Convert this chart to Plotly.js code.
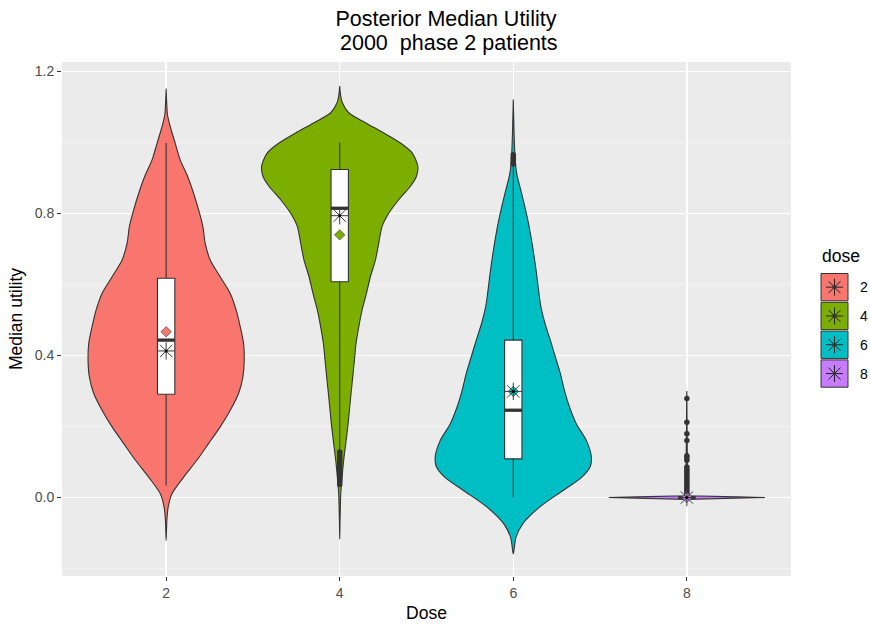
<!DOCTYPE html>
<html><head><meta charset="utf-8">
<script src="https://cdn.plot.ly/plotly-3.0.1.min.js"></script>
<style>html,body{margin:0;padding:0;background:#fff}</style>
</head><body><div id="chart" style="width:870px;height:624px"></div>
<script>
// ---- data ----
const doses = ['2','4','6','8'];
const doseColors = ['#F8766D','#7CAE00','#00BFC4','#C77CFF'];

// violin outlines: utility grid and relative density (max = 1)
const vioY_2 = [-0.121,-0.065,-0.027,0.010,0.057,0.105,0.152,0.199,0.246,0.293,0.340,0.387,0.434,0.481,0.528,0.575,0.622,0.669,0.717,0.764,0.811,0.858,0.905,0.952,0.999,1.046,1.079,1.103,1.152];
const vioD_2 = [0,0.009,0.026,0.073,0.222,0.393,0.543,0.692,0.821,0.927,0.983,1.0,0.991,0.949,0.897,0.821,0.692,0.564,0.5,0.47,0.415,0.35,0.274,0.179,0.115,0.051,0.017,0.009,0];
const vioY_4 = [-0.117,-0.065,-0.018,0.010,0.057,0.105,0.152,0.199,0.246,0.293,0.340,0.387,0.434,0.481,0.528,0.575,0.622,0.669,0.717,0.764,0.801,0.839,0.877,0.905,0.933,0.971,0.999,1.027,1.056,1.084,1.112,1.131,1.159];
const vioD_4 = [0,0.004,0.009,0.013,0.030,0.051,0.077,0.103,0.124,0.145,0.167,0.188,0.209,0.244,0.286,0.342,0.393,0.457,0.5,0.543,0.628,0.756,0.906,0.983,1.0,0.927,0.778,0.564,0.329,0.115,0.034,0.013,0];
const vioY_6 = [-0.159,-0.112,-0.074,-0.027,0.020,0.057,0.086,0.114,0.161,0.208,0.255,0.302,0.349,0.396,0.4435,0.491,0.538,0.585,0.632,0.679,0.726,0.773,0.820,0.867,0.914,0.961,1.037,1.121];
const vioD_6 = [0,0.034,0.121,0.336,0.638,0.875,0.983,1.0,0.935,0.806,0.72,0.655,0.603,0.539,0.474,0.405,0.353,0.323,0.297,0.267,0.233,0.194,0.147,0.095,0.043,0.022,0.009,0];
const vioY_8 = [-0.005,-0.0018,0,0.0018,0.005,0.050,0.100,0.200,0.280,0.300];
const vioD_8 = [0,0.64,1.0,0.64,0.015,0.008,0.006,0.004,0.003,0];

// box plot statistics
const boxQ1 = [0.291, 0.608, 0.109, 0];
const boxMedian = [0.4435, 0.815, 0.246, 0];
const boxQ3 = [0.618, 0.924, 0.4435, 0];
const whiskerLow = [0.034, 0.135, 0.001, 0];
const whiskerHigh = [0.999, 1.001, 0.933, 0];
const meanUtility = [0.467, 0.740, 0.299, 0.0];
const starUtility = [0.413, 0.794, 0.299, 0.0];

const outliers_2 = [];
const outliers_4 = [0.128,0.121,0.114,0.107,0.100,0.093,0.086,0.079,0.072,0.065,0.058,0.051,0.044,0.037];
const outliers_6 = [0.966,0.959,0.952,0.946,0.940];
const outliers_8 = [0.279,0.212,0.180,0.161,0.118,0.112,0.105,0.086,0.080,0.074,0.068,0.062,0.056,0.050,0.044,0.038,0.032,0.026,0.020,0.014,0.008];

const yTickVals = [0, 0.4, 0.8, 1.2];
const yTickText = ['0.0','0.4','0.8','1.2'];

// ---- build ----
const vioY = [vioY_2, vioY_4, vioY_6, vioY_8];
const vioD = [vioD_2, vioD_4, vioD_6, vioD_8];
const outl = [outliers_2, outliers_4, outliers_6, outliers_8];
const HALF = 0.45, BOXW = 0.1;
const FONT = 'Liberation Sans, Arial, sans-serif';
const DARK = '#333333';
const traces = [];

// violins
doses.forEach((d, i) => {
  const pos = i + 1;
  const ys = vioY[i], ds = vioD[i];
  const xr = ds.map(v => pos + HALF * v);
  const xl = ds.map(v => pos - HALF * v).reverse();
  traces.push({
    type: 'scatter', mode: 'lines', fill: 'toself',
    x: xr.concat(xl), y: ys.concat(ys.slice().reverse()),
    fillcolor: doseColors[i],
    line: i < 3 ? {color: DARK, width: 1.1, shape: 'spline', smoothing: 0.8} : {color: DARK, width: 1.1},
    hoverinfo: 'skip', showlegend: false
  });
});

// whiskers
const wx = [], wy = [];
doses.forEach((d, i) => {
  wx.push(i + 1, i + 1, null, i + 1, i + 1, null);
  wy.push(boxQ3[i], whiskerHigh[i], null, boxQ1[i], whiskerLow[i], null);
});
traces.push({type: 'scatter', mode: 'lines', x: wx, y: wy, line: {color: DARK, width: 1.1}, showlegend: false, hoverinfo: 'skip'});

// boxes
doses.forEach((d, i) => {
  const a = i + 1 - BOXW / 2, b = i + 1 + BOXW / 2;
  traces.push({type: 'scatter', mode: 'lines', fill: 'toself',
    x: [a, b, b, a, a], y: [boxQ1[i], boxQ1[i], boxQ3[i], boxQ3[i], boxQ1[i]],
    fillcolor: '#FFFFFF', line: {color: DARK, width: 1.1}, showlegend: false, hoverinfo: 'skip'});
});

// medians
const mx = [], my = [];
boxMedian.forEach((m, i) => { mx.push(i + 1 - BOXW/2, i + 1 + BOXW/2, null); my.push(m, m, null); });
traces.push({type: 'scatter', mode: 'lines', x: mx, y: my, line: {color: DARK, width: 3.3}, showlegend: false, hoverinfo: 'skip'});

// outliers
const ox = [], oy = [];
outl.forEach((arr, i) => arr.forEach(v => { ox.push(i + 1); oy.push(v); }));
traces.push({type: 'scatter', mode: 'markers', x: ox, y: oy, marker: {color: DARK, size: 5.5}, showlegend: false});

// means and stars
traces.push({type: 'scatter', mode: 'markers', x: doses.map((d, i) => i + 1), y: meanUtility,
  marker: {symbol: 'diamond', size: 8, color: doseColors, line: {color: '#555555', width: 0.8}}, showlegend: false});
traces.push({type: 'scatter', mode: 'markers', x: doses.map((d, i) => i + 1), y: starUtility,
  marker: {symbol: 'asterisk-open', size: 14.5, color: '#3a3a3a', line: {color: '#3a3a3a', width: 1}}, showlegend: false});
traces.push({type: 'scatter', mode: 'markers', x: doses.map((d, i) => i + 1), y: starUtility,
  marker: {symbol: 'circle', size: 3, color: '#000000'}, showlegend: false});

// ---- legend drawn in pixel space ----
const L = 62, T = 62, W = 729, H = 514;
const px = p => (p - L) / W;
const py = p => (T + H - p) / H;
const shapes = [], annotations = [];
doses.forEach((d, i) => {
  const top = 273.5 + i * 28.8, bot = top + 27.3, cx = 834.5, cy = (top + bot) / 2;
  shapes.push({type: 'rect', xref: 'paper', yref: 'paper', x0: px(821), x1: px(848), y0: py(bot), y1: py(top),
    fillcolor: doseColors[i], line: {color: DARK, width: 1}, layer: 'above'});
  const r = 8.5, r2 = 6;
  const path = `M${px(cx - r)},${py(cy)} L${px(cx + r)},${py(cy)} M${px(cx)},${py(cy - r)} L${px(cx)},${py(cy + r)} ` +
    `M${px(cx - r2)},${py(cy - r2)} L${px(cx + r2)},${py(cy + r2)} M${px(cx - r2)},${py(cy + r2)} L${px(cx + r2)},${py(cy - r2)}`;
  shapes.push({type: 'path', xref: 'paper', yref: 'paper', path: path, line: {color: '#222222', width: 1}, layer: 'above'});
  shapes.push({type: 'circle', xref: 'paper', yref: 'paper', x0: px(cx - 2), x1: px(cx + 2), y0: py(cy + 2), y1: py(cy - 2),
    fillcolor: DARK, line: {color: DARK, width: 0}, layer: 'above'});
  annotations.push({xref: 'paper', yref: 'paper', x: px(858), y: py(cy), xanchor: 'left', yanchor: 'middle',
    text: d, showarrow: false, font: {family: FONT, size: 14, color: '#000000'}});
});
annotations.push({xref: 'paper', yref: 'paper', x: px(820), y: py(256), xanchor: 'left', yanchor: 'middle',
  text: 'dose', showarrow: false, font: {family: FONT, size: 17.5, color: '#000000'}});
annotations.push({xref: 'paper', yref: 'paper', x: px(448.5), y: py(43), xanchor: 'center', yanchor: 'middle',
  text: '2000\u00a0 phase 2 patients', showarrow: false, font: {family: FONT, size: 21.5, color: '#000000'}});

const layout = {
  width: 870, height: 624,
  margin: {l: L, r: 870 - L - W, t: T, b: 624 - T - H, pad: 0},
  paper_bgcolor: '#FFFFFF', plot_bgcolor: '#EBEBEB',
  font: {family: FONT, color: '#000000'},
  showlegend: false,
  title: {text: 'Posterior Median Utility', font: {family: FONT, size: 21.5, color: '#000000'},
    x: 445.9 / 870, xref: 'container', xanchor: 'center', y: 1 - 18.5 / 624, yref: 'container', yanchor: 'middle'},
  xaxis: {type: 'linear', range: [0.4, 4.6], tickvals: doses.map((d, i) => i + 1), ticktext: doses,
    showgrid: true, gridcolor: '#FFFFFF', gridwidth: 1.3, zeroline: false, showline: false,
    ticks: 'outside', ticklen: 4, tickwidth: 1, tickcolor: DARK,
    tickfont: {family: FONT, size: 14, color: '#4D4D4D'},
    title: {text: 'Dose', font: {family: FONT, size: 17.5, color: '#000000'}, standoff: 6}, automargin: false},
  yaxis: {type: 'linear', range: [-0.221, 1.227], tickvals: yTickVals, ticktext: yTickText,
    showgrid: true, gridcolor: '#FFFFFF', gridwidth: 1.3, zeroline: false, showline: false,
    ticks: 'outside', ticklen: 4, tickwidth: 1, tickcolor: DARK,
    tickfont: {family: FONT, size: 14, color: '#4D4D4D'},
    minor: {tickmode: 'linear', tick0: 0.2, dtick: 0.4, showgrid: true, gridcolor: '#F7F7F7', gridwidth: 0.7, ticks: ''},
    title: {text: 'Median utility', font: {family: FONT, size: 17.5, color: '#000000'}, standoff: 7}, automargin: false},
  shapes: shapes, annotations: annotations
};

Plotly.newPlot('chart', traces, layout, {displayModeBar: false, staticPlot: true});
</script></body></html>
